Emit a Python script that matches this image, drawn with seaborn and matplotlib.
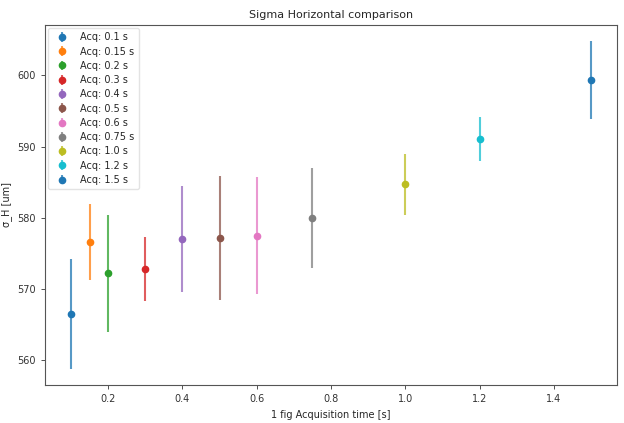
import matplotlib
matplotlib.use("Agg")
import matplotlib.pyplot as plt
import seaborn as sns
import numpy as np

# Acquisition times [s], horizontal sigma means and spreads [um]
acq_times = [0.1, 0.15, 0.2, 0.3, 0.4, 0.5, 0.6, 0.75, 1.0, 1.2, 1.5]
sigma_h = [566.5, 576.6, 572.2, 572.8, 577.0, 577.2, 577.5, 580.0, 584.7, 591.1, 599.35]
sigma_err = [7.7, 5.3, 8.2, 4.5, 7.5, 8.7, 8.2, 7.0, 4.3, 3.1, 5.45]
labels = [f"Acq: {t} s" for t in acq_times]

sns.set_style("white")
plt.rcParams["font.family"] = ["DejaVu Sans"]
palette = sns.color_palette("tab10", 10)

fig, ax = plt.subplots(figsize=(6.24, 4.23), dpi=100)
fig.subplots_adjust(left=0.072, right=0.989, top=0.941, bottom=0.09)

for i, (t, s, e, lab) in enumerate(zip(acq_times, sigma_h, sigma_err, labels)):
    c = palette[i % 10]
    ax.errorbar(t, s, yerr=e, fmt="o", color=c, ecolor=(*c, 0.75),
                elinewidth=1.5, markersize=4.5, label=lab)

ax.set_title("Sigma Horizontal comparison", fontsize=8, pad=5)
ax.set_xlabel("1 fig Acquisition time [s]", fontsize=7)
ax.set_ylabel("σ_H [um]", fontsize=7)
ax.tick_params(axis="both", labelsize=7, length=3, width=0.6, colors="#333333",
               direction="out", bottom=True, left=True)
for sp in ax.spines.values():
    sp.set_color("#555555")
    sp.set_linewidth(0.8)

leg = ax.legend(loc="upper left", fontsize=7, frameon=True, handletextpad=0.9,
                labelspacing=0.44, borderpad=0.4, borderaxespad=0.35)
leg.get_frame().set_edgecolor("#dddddd")

fig.savefig("out.png", dpi=100)
